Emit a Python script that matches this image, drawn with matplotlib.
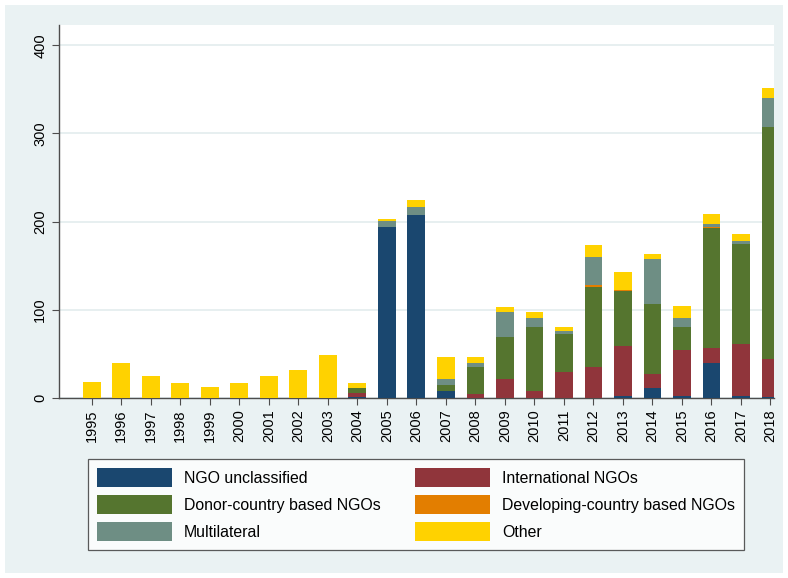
import matplotlib.pyplot as plt
import numpy as np
from matplotlib.patches import Rectangle

plt.rcParams['font.family'] = ['Liberation Sans', 'DejaVu Sans']

years = [str(y) for y in range(1995, 2019)]

ngo_unclassified = [0, 0, 0, 0, 0, 0, 0, 0, 0, 1, 194, 208, 7.5, 0, 0, 0, 0, 0.5, 2, 11.5, 2, 40, 2, 1]
international = [0, 0, 0, 0, 0, 0, 0, 0, 0, 5, 0, 0, 0, 4.5, 21, 8.5, 30, 35, 57, 16, 52, 17, 59.5, 43.5]
donor_country = [0, 0, 0, 0, 0, 0, 0, 0, 0, 5, 0, 0, 7.5, 31, 48, 72.5, 43, 90, 62, 79, 26, 135.5, 113.5, 263]
developing = [0, 0, 0, 0, 0, 0, 0, 0, 0, 0, 0, 0, 0, 0, 0, 0, 0, 3, 1, 0, 0, 1, 0, 0]
multilateral = [0, 0, 0, 0, 0, 0, 0, 0, 0, 0.5, 7, 9, 6, 4, 29, 10, 2.5, 31, 0, 51, 11, 3.5, 3, 33]
other = [18, 40, 25, 17.5, 13, 17.5, 25, 32, 49, 5, 2, 8, 26, 7, 5, 6, 5.5, 14, 21, 5.5, 13.5, 11.5, 8, 11.5]

series = [
  ('NGO unclassified', ngo_unclassified, '#1A476F'),
  ('International NGOs', international, '#90353B'),
  ('Donor-country based NGOs', donor_country, '#55752F'),
  ('Developing-country based NGOs', developing, '#E37E00'),
  ('Multilateral', multilateral, '#6E8E84'),
  ('Other', other, '#FFD200'),
]

bg = '#EAF2F3'
fig = plt.figure(figsize=(7.88, 5.78), dpi=100, facecolor='white')
fig.patches.append(Rectangle((5/788, 5/578), 778/788, 568/578, transform=fig.transFigure,
                             facecolor=bg, edgecolor='none', zorder=-10))

ax = fig.add_axes([59/788, 1 - 398/578, 715/788, 373/578])
ax.set_facecolor('white')

x = np.arange(len(years))
bottom = np.zeros(len(years))
handles = []
for name, vals, col in series:
  vals = np.array(vals, dtype=float)
  b = ax.bar(x, vals, width=0.6, bottom=bottom, color=col, edgecolor='none', label=name, zorder=3)
  handles.append(b)
  bottom += vals

ax.set_xlim(-1.11, 23.12)
ax.set_ylim(0, 423)
ax.set_yticks([0, 100, 200, 300, 400])
ax.set_yticklabels(['0', '100', '200', '300', '400'], rotation=90, va='center', fontsize=10.5)
ax.set_xticks(x)
ax.set_xticklabels(years, rotation=90, fontsize=10.5)
ax.grid(axis='y', color='#E3ECEE', lw=1.2, zorder=0)

for s in ['top', 'right']:
  ax.spines[s].set_visible(False)
for s in ['left', 'bottom']:
  ax.spines[s].set_color('#4d4d4d')
  ax.spines[s].set_linewidth(1.0)
ax.tick_params(axis='both', colors='#4d4d4d', labelcolor='black', length=5, width=0.8)
ax.tick_params(axis='x', pad=3)

# stata-style legend: two columns, filled in row order
order = [0, 2, 4, 1, 3, 5]
leg = fig.legend([handles[i] for i in order], [series[i][0] for i in order],
                 ncol=2, loc='upper center', bbox_to_anchor=(416/788, 1 - 459/578),
                 fontsize=11.4, frameon=True, fancybox=False,
                 handlelength=4.74, handleheight=1.48, handletextpad=0.76,
                 columnspacing=2.2, labelspacing=0.5, borderpad=0.57, borderaxespad=0)
leg.get_frame().set_edgecolor('#333333')
leg.get_frame().set_linewidth(0.9)

fig.savefig('out.png', dpi=100, facecolor=fig.get_facecolor())
